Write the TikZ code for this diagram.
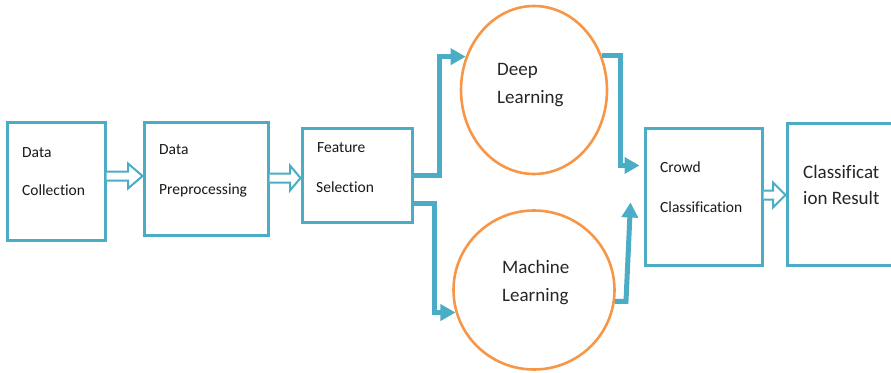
\documentclass[tikz,border=0pt]{standalone}
\usepackage{fontspec}
\setmainfont{Carlito}[Ligatures={NoCommon}]
\usetikzlibrary{calc,shapes.geometric,arrows.meta}
\definecolor{ablue}{RGB}{75,172,198}
\definecolor{aorange}{RGB}{247,150,70}
\tikzset{
  box/.style={draw=ablue, line width=3pt, fill=white, rectangle, inner sep=0pt},
  oval/.style={draw=aorange, line width=2.6pt, ellipse, inner sep=0pt},
  lbl/.style={anchor=base west, inner sep=0pt, font=\fontsize{15.5}{18}\selectfont, text=black!90},
  biglbl/.style={anchor=base west, inner sep=0pt, font=\fontsize{19}{22}\selectfont, text=black!85},
  conn/.style={draw=ablue, line width=5pt, -{Triangle[length=15pt,width=16pt]}},
  harrow/.style={draw=ablue, line width=2pt, fill=white, line join=miter},
}
\newcommand\hollowarr[4]{%
  \draw[harrow] (#1 |- 0,#3-4.5) -- (#4,#3-4.5) -- (#4,#3-12.5) -- (#2 |- 0,#3)
    -- (#4,#3+12.5) -- (#4,#3+4.5) -- (#1 |- 0,#3+4.5);}
\begin{document}
\begin{tikzpicture}[x=1pt,y=-1pt]
\useasboundingbox (0,0) rectangle (891,372);
\clip (0,0) rectangle (891,372);
% boxes
\node[box, minimum width=98pt, minimum height=118pt] (b1) at (56,181) {};
\node[box, minimum width=124pt, minimum height=113pt] (b2) at (206,178.5) {};
\node[box, minimum width=110pt, minimum height=94pt] (b3) at (357,175) {};
\node[box, minimum width=117pt, minimum height=137pt] (cr) at (703.5,196.5) {};
\node[box, minimum width=113pt, minimum height=142pt] (res) at (843.5,194) {};
% ellipses
\node[oval, minimum width=146pt, minimum height=168pt] (dl) at (534,90) {};
\node[oval, minimum width=161pt, minimum height=159pt] (ml) at (534,290) {};
% hollow arrows
\hollowarr{b1.east}{b2.west}{176}{128}
\hollowarr{b2.east}{b3.west}{178}{290}
\hollowarr{cr.east}{res.west}{195}{773}
% connectors
\draw[conn] (b3.east) -- ++(26,0) |- (dl.154);
\draw[conn] ($(b3.south east)+(0,-20)$) -- ++(21,0) |- (ml.196);
\draw[conn] (dl.27) -- ++(19,0) |- ($(cr.north west)+(-4,39)$);
\draw[conn] (ml.352) -- ++(11,0) -- ($(cr.north west)+(-13,76)$);
% labels
\node[lbl] (t1a) at (22,157) {Data};
\node[lbl] (t1b) at (22,195) {Collection};
\node[lbl] (t2a) at (159,154) {Data};
\node[lbl] (t2b) at (159,194) {Preprocessing};
\node[lbl] (t3a) at (317,152) {Feature};
\node[lbl] (t3b) at (316,192) {Selection};
\node[biglbl] (t4a) at (497,75) {Deep};
\node[biglbl] (t4b) at (497,103) {Learning};
\node[biglbl] (t5a) at (502,273) {Machine};
\node[biglbl] (t5b) at (502,301) {Learning};
\node[lbl] (t6a) at (660,172) {Crowd};
\node[lbl] (t6b) at (660,212) {Classification};
\node[biglbl] (t7a) at (803,178) {Classificat};
\node[biglbl] (t7b) at (803,204) {ion Result};
\end{tikzpicture}
\end{document}
